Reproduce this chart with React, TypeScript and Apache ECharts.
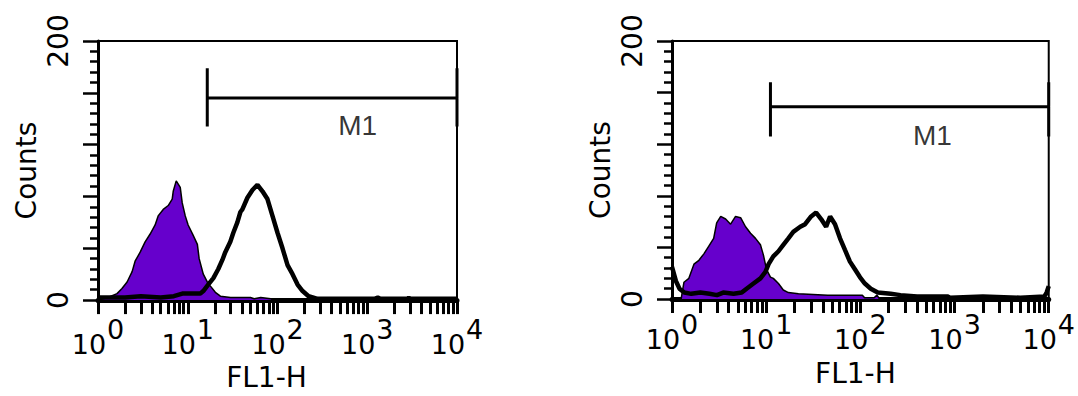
import React, { useEffect, useRef } from 'react';
import * as echarts from 'echarts';

// Tick values / labels
const xTicks = [1, 2, 3, 4, 5, 6, 7, 8, 9, 10, 20, 30, 40, 50, 60, 70, 80, 90, 100, 200, 300, 400, 500, 600, 700, 800, 900, 1000, 2000, 3000, 4000, 5000, 6000, 7000, 8000, 9000, 10000];
const xTickLabels = [1, 10, 100, 1000, 10000];
const yTickLabels = [0, 200];

// Left panel histograms [FL1-H, counts]
const leftFilled = [[1, 0], [1.15, 1], [1.29, 2], [1.63, 5], [1.85, 9], [2.11, 14], [2.4, 22], [2.59, 30], [2.95, 37], [3.35, 45], [3.81, 51], [4.33, 58], [4.68, 65], [5.33, 70], [6.06, 73], [6.71, 78], [6.89, 84], [7.44, 92], [8.25, 87], [8.68, 75], [9.38, 65], [10.1, 58], [11.5, 50], [12.8, 43], [13.4, 32], [14.9, 20], [16.5, 14], [17.8, 11], [20.3, 6], [23.1, 3], [30, 2], [50, 2], [55, 1], [65, 2], [84, 1], [90, 0], [10000, 0]];
const leftOpen = [[1, 2], [2, 2], [3, 3], [5, 2], [7, 3], [8.7, 5], [12, 5], [13.8, 5], [14.9, 7], [16.9, 12], [19.3, 17], [21.9, 24], [24.3, 31], [26.2, 37], [29.8, 45], [32.2, 52], [35.7, 60], [38.6, 68], [40.6, 70], [46.2, 79], [52.6, 85], [59.8, 89], [68, 84], [77.3, 78], [87.9, 65], [100, 52], [113.7, 40], [129.4, 27], [147.1, 20], [167.3, 12], [190.3, 7], [222, 3], [280, 1], [1200, 1], [1310, 2], [1400, 1], [2800, 1], [2900, 2], [3000, 1], [5300, 1], [5400, 2], [5500, 1], [10000, 1]];

// Right panel histograms
const rightFilled = [[1, 0], [1.25, 0], [1.34, 13], [1.51, 16], [1.71, 27], [1.93, 30], [2.18, 35], [2.46, 41], [2.77, 47], [2.98, 59], [3.29, 64], [3.71, 62], [4.19, 58], [4.73, 64], [5.35, 63], [6.04, 56], [6.82, 51], [7.7, 47], [8.69, 42], [9.35, 34], [10.07, 23], [11.1, 17], [11.9, 16], [13.5, 12], [15.2, 7], [17.2, 5], [22, 4], [45, 3], [105, 3], [111, 1], [140, 1], [150, 3], [160, 0], [10000, 0]];
const rightOpen = [[1, 25], [1.1, 14], [1.2, 8], [1.35, 5], [1.6, 4], [2, 5], [2.5, 4], [3, 3], [3.5, 5], [4.5, 4], [5.5, 5], [6.19, 8], [7.33, 12], [8.69, 16], [9.82, 21], [10.6, 27], [11.9, 33], [13.5, 37], [15.2, 42], [17.2, 47], [19.4, 52], [23, 56], [25.9, 58], [30, 64], [33.9, 67], [38.3, 62], [43.3, 56], [47.7, 64], [53.8, 58], [60.8, 47], [68.6, 38], [77.5, 29], [87.5, 23], [98.8, 17], [111.6, 12], [129, 8], [153, 5], [210, 4], [267, 3], [400, 2], [838, 2], [900, 1], [2000, 2], [5000, 1], [9000, 2], [9500, 5], [10000, 10]];

// M1 gates: [start, end, level, tickTop, tickBottom]
const leftGate = [16.5, 10000, 156, 179, 134];
const rightGate = [11.1, 10000, 149, 168, 126];
const leftGateLabel = [783, 135];
const rightGateLabel = [582, 127];

const PURPLE = '#6600cc';
const FONT = 'DejaVu Sans';

function xAx(gridIndex: number, nameGap: number, margin: number, namePad: number) {
  return {
    type: 'log', logBase: 10, min: 1, max: 10000, gridIndex,
    axisLine: { show: true, lineStyle: { color: '#000', width: 5 } },
    axisTick: { show: true, length: 14, customValues: xTicks, lineStyle: { color: '#000', width: 3 } },
    splitLine: { show: false },
    axisLabel: {
      margin,
      customValues: xTickLabels,
      formatter: (v: number) => `{b|10}{s|${Math.round(Math.log10(v))}}`,
      rich: {
        b: { fontSize: 27, fontFamily: FONT, color: '#000', verticalAlign: 'bottom' },
        s: { fontSize: 27, fontFamily: FONT, color: '#000', verticalAlign: 'bottom', padding: [0, 0, 15, 1] },
      },
    },
    name: 'FL1-H', nameLocation: 'middle', nameGap,
    nameTextStyle: { fontSize: 28, fontFamily: FONT, color: '#000', padding: [0, namePad, 0, 0] },
  };
}

function yAx(gridIndex: number) {
  return {
    type: 'value', min: 0, max: 200, interval: 40, gridIndex,
    axisLine: { show: true, lineStyle: { color: '#000', width: 3 } },
    axisTick: { show: true, length: 15, lineStyle: { color: '#000', width: 2.5 } },
    minorTick: { show: true, splitNumber: 5, length: 8, lineStyle: { color: '#000', width: 2.5 } },
    splitLine: { show: false },
    axisLabel: {
      rotate: 90, margin: 26, fontSize: 28, fontFamily: FONT, color: '#000',
      formatter: (v: number) => (yTickLabels.includes(v) ? String(v) : ''),
    },
    name: 'Counts', nameLocation: 'middle', nameRotate: 90, nameGap: 58,
    nameTextStyle: { fontSize: 28, fontFamily: FONT, color: '#000' },
  };
}

function filledSeries(i: number, data: number[][]) {
  return {
    type: 'line', xAxisIndex: i, yAxisIndex: i, data, symbol: 'none',
    lineStyle: { color: '#000', width: 1.5 },
    areaStyle: { color: PURPLE, opacity: 1 },
  };
}

function openSeries(i: number, data: number[][]) {
  return {
    type: 'line', xAxisIndex: i, yAxisIndex: i, data, symbol: 'none',
    lineStyle: { color: '#000', width: 4.5 },
  };
}

// M1 gate drawn as one polyline: left bar, level line, right bar
function gateSeries(i: number, g: number[]) {
  return {
    type: 'line', xAxisIndex: i, yAxisIndex: i, symbol: 'none', clip: false, silent: true,
    lineStyle: { color: '#000', width: 3 },
    data: [[g[0], g[3]], [g[0], g[4]], [g[0], g[2]], [g[1], g[2]], [g[1], g[3]], [g[1], g[4]]],
  };
}

function gateLabelSeries(i: number, lbl: number[]) {
  return {
    type: 'scatter', xAxisIndex: i, yAxisIndex: i, symbolSize: 1, silent: true,
    itemStyle: { color: 'rgba(0,0,0,0)' },
    label: { show: true, position: 'inside', formatter: 'M1', fontSize: 28, fontFamily: 'Liberation Sans', color: '#000' },
    data: [lbl],
  };
}

export default function App() {
  const ref = useRef<HTMLDivElement>(null);
  useEffect(() => {
    if (!ref.current) return;
    const chart = echarts.init(ref.current, null, { renderer: 'svg' });
    chart.setOption({
      animation: false,
      backgroundColor: '#fff',
      grid: [
        { left: 98, top: 41, width: 359, height: 265, show: true, borderColor: '#000', borderWidth: 2 },
        { left: 672, top: 41, width: 380, height: 258, show: true, borderColor: '#000', borderWidth: 2 },
      ],
      xAxis: [xAx(0, 55, 16, 22), xAx(1, 60, 12, 10)],
      yAxis: [yAx(0), yAx(1)],
      series: [
        filledSeries(0, leftFilled),
        openSeries(0, leftOpen),
        gateSeries(0, leftGate),
        gateLabelSeries(0, leftGateLabel),
        filledSeries(1, rightFilled),
        openSeries(1, rightOpen),
        gateSeries(1, rightGate),
        gateLabelSeries(1, rightGateLabel),
      ],
    });
    return () => chart.dispose();
  }, []);
  return <div ref={ref} style={{ position: 'absolute', left: 0, top: 0, width: 1078, height: 396 }} />;
}
